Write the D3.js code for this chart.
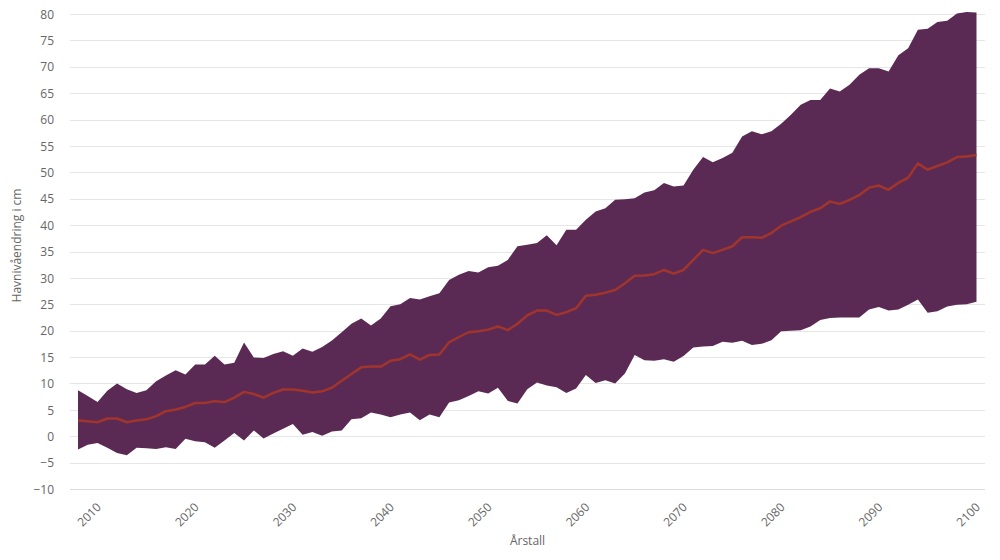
<!DOCTYPE html>
<html><head><meta charset="utf-8">
<script src="https://cdn.jsdelivr.net/npm/d3@7"></script>
<style>body{margin:0;background:#fff}svg{display:block}text{font-family:"Open Sans",sans-serif}</style>
</head><body><svg id="c" width="1000" height="560"></svg>
<script>
const startYear = 2008;
const upper = [8.7,7.6,6.5,8.6,10.0,8.9,8.2,8.7,10.4,11.5,12.5,11.7,13.6,13.6,15.25,13.6,13.9,17.75,14.9,14.8,15.6,16.1,15.25,16.6,16.0,16.9,18.15,19.7,21.3,22.3,21.0,22.3,24.65,25.0,26.2,25.9,26.5,27.1,29.6,30.6,31.3,31.0,32.0,32.3,33.4,36.0,36.3,36.6,38.1,36.2,39.1,39.1,41.0,42.6,43.2,44.8,44.9,45.1,46.2,46.6,48.0,47.3,47.5,50.5,52.9,51.9,52.7,53.7,56.8,57.8,57.2,57.8,59.2,60.9,62.8,63.7,63.7,65.9,65.3,66.6,68.5,69.7,69.7,69.1,72.2,73.5,77.0,77.2,78.5,78.7,80.1,80.4,80.3];
const median = [3.0,2.85,2.65,3.35,3.35,2.65,3.0,3.2,3.8,4.75,5.05,5.55,6.3,6.3,6.65,6.45,7.3,8.4,8.0,7.3,8.2,8.85,8.85,8.6,8.3,8.5,9.2,10.5,11.8,13.05,13.2,13.2,14.3,14.6,15.5,14.5,15.4,15.5,17.8,18.8,19.7,19.9,20.2,20.8,20.1,21.3,22.9,23.8,23.8,23.0,23.5,24.25,26.6,26.8,27.2,27.7,29.0,30.4,30.45,30.7,31.5,30.8,31.5,33.4,35.3,34.7,35.3,36.0,37.7,37.7,37.6,38.5,39.9,40.7,41.5,42.5,43.2,44.5,44.0,44.8,45.7,47.1,47.5,46.7,48.0,49.0,51.7,50.5,51.2,51.9,52.9,53.0,53.3];
const lower = [-2.5,-1.6,-1.3,-2.2,-3.2,-3.6,-2.2,-2.3,-2.4,-2.1,-2.4,-0.5,-0.95,-1.15,-2.2,-0.8,0.6,-0.8,1.1,-0.45,0.5,1.4,2.3,0.3,0.8,0.1,0.9,1.1,3.2,3.4,4.5,4.1,3.6,4.1,4.5,3.05,4.1,3.6,6.4,6.8,7.6,8.5,8.1,9.2,6.7,6.2,8.9,10.2,9.6,9.3,8.2,9.05,11.6,10.1,10.6,10.0,11.9,15.4,14.4,14.3,14.6,14.1,15.2,16.8,17.0,17.1,17.9,17.7,18.1,17.3,17.5,18.2,19.9,20.0,20.1,20.8,22.0,22.4,22.5,22.5,22.5,24.0,24.5,23.8,24.0,24.9,25.9,23.4,23.7,24.6,24.9,25.0,25.5];
const xTicks = [2010,2020,2030,2040,2050,2060,2070,2080,2090,2100];
const yTicks = [-10,-5,0,5,10,15,20,25,30,35,40,45,50,55,60,65,70,75,80];
const yTitle = "Havnivåendring i cm";
const xTitle = "Årstall";

const years = upper.map((_, i) => startYear + i);
const data = years.map((yr, i) => ({yr, lo: lower[i], hi: upper[i], med: median[i]}));

const svg = d3.select("#c");
const x = d3.scaleLinear().domain([2008, 2100]).range([78, 976.5]);
const y = d3.scaleLinear().domain([-10, 80]).range([489, 14]);
const gridL = 70, gridR = 985;

// gridlines
svg.append("g").selectAll("line").data(yTicks).join("line")
  .attr("x1", gridL).attr("x2", gridR)
  .attr("y1", d => Math.round(y(d)) + 0.5).attr("y2", d => Math.round(y(d)) + 0.5)
  .attr("stroke", d => d === -10 ? "#dcdcdc" : "#e6e6e6").attr("stroke-width", 1);

// y labels
const yAxis = d3.axisLeft(y).tickValues(yTicks).tickSize(0).tickPadding(0)
  .tickFormat(d => d < 0 ? "\u2212" + Math.abs(d) : d);
const gy = svg.append("g").attr("transform", `translate(54,0)`).call(yAxis);
gy.select(".domain").remove();
gy.selectAll("text").attr("font-family", "Open Sans").attr("font-size", 12).attr("fill", "#666").attr("dy", "0.35em");

// x labels
const xAxis = d3.axisBottom(x).tickValues(xTicks).tickSize(0).tickPadding(0).tickFormat(d3.format("d"));
const gx = svg.append("g").attr("transform", `translate(0,502)`).call(xAxis);
gx.select(".domain").remove();
gx.selectAll("text").attr("font-family", "Open Sans").attr("font-size", 12).attr("fill", "#666")
  .attr("text-anchor", "end").attr("dy", "0.7em").attr("transform", "translate(-2,0) rotate(-45)");

// band
const area = d3.area().x(d => x(d.yr)).y0(d => y(d.lo)).y1(d => y(d.hi));
svg.append("path").datum(data).attr("d", area).attr("fill", "#5a2a55");

// median line
const line = d3.line().x(d => x(d.yr)).y(d => y(d.med));
svg.append("path").datum(data).attr("d", line).attr("fill", "none")
  .attr("stroke", "#a1352c").attr("stroke-width", 2.5).attr("stroke-linejoin", "round");

// titles
svg.append("text").attr("transform", `translate(21,${(14+489)/2 - 6}) rotate(-90)`)
  .attr("text-anchor", "middle").attr("font-size", 12).attr("fill", "#666").text(yTitle);
svg.append("text").attr("x", (gridL + gridR) / 2).attr("y", 545)
  .attr("text-anchor", "middle").attr("font-size", 12).attr("fill", "#666").text(xTitle);
</script></body></html>
